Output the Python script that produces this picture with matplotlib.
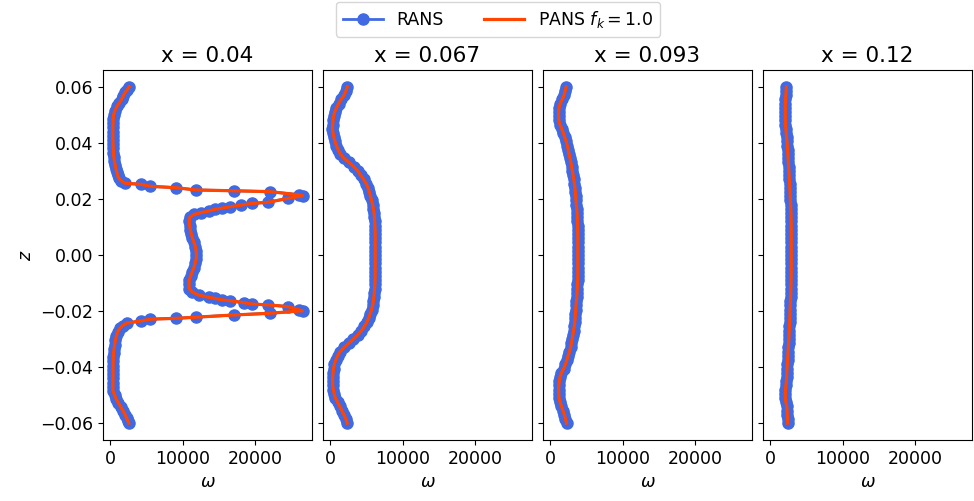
import matplotlib
matplotlib.use("Agg")
import matplotlib.pyplot as plt

# station labels
stations = ["x = 0.04", "x = 0.067", "x = 0.093", "x = 0.12"]

# x = 0.04 profile (z, omega)
z1 = [0.0600, 0.0590, 0.0580, 0.0568, 0.0555, 0.0542, 0.0530, 0.0515, 0.0500, 0.0485,
      0.0470, 0.0455, 0.0440, 0.0425, 0.0410, 0.0395, 0.0380, 0.0365, 0.0350, 0.0335,
      0.0320, 0.0305, 0.0295, 0.0285, 0.0275, 0.0265, 0.0256, 0.0252, 0.0245, 0.0240,
      0.0232, 0.0229, 0.0226, 0.0215, 0.0211, 0.0202, 0.0188, 0.0184, 0.0178, 0.0172,
      0.0167, 0.0163, 0.0157, 0.0151, 0.0145, 0.0135, 0.0120, 0.0105, 0.0090, 0.0075,
      0.0060, 0.0045, 0.0030, 0.0015, 0.0000, -0.0015, -0.0030, -0.0045, -0.0060, -0.0075,
      -0.0090, -0.0105, -0.0120, -0.0132, -0.0143, -0.0151, -0.0155, -0.0160, -0.0163, -0.0170,
      -0.0175, -0.0178, -0.0184, -0.0196, -0.0199, -0.0208, -0.0214, -0.0222, -0.0226, -0.0229,
      -0.0235, -0.0243, -0.0252, -0.0261, -0.0275, -0.0290, -0.0305, -0.0320, -0.0335, -0.0350,
      -0.0365, -0.0380, -0.0395, -0.0410, -0.0425, -0.0440, -0.0455, -0.0470, -0.0485, -0.0500,
      -0.0515, -0.0528, -0.0542, -0.0558, -0.0570, -0.0582, -0.0594, -0.0600]
w1 = [2600, 2350, 2050, 1800, 1550, 1250, 900, 650, 450, 400,
      380, 360, 350, 350, 360, 380, 400, 430, 480, 560,
      680, 800, 900, 1000, 1150, 1500, 2050, 4300, 5500, 9100,
      11800, 17100, 22000, 26000, 26550, 24500, 21800, 19500, 18100, 16500,
      15400, 14500, 13600, 12500, 11600, 11000, 10900, 10950, 11050, 11200,
      11350, 11550, 11750, 11850, 11900, 11850, 11700, 11550, 11300, 11100,
      10900, 10880, 10900, 11300, 12200, 13600, 14500, 15400, 16500, 18400,
      19500, 21800, 24500, 26100, 26550, 22000, 17100, 11800, 9100, 5500,
      4300, 2250, 1700, 1350, 1000, 820, 700, 600, 520, 450,
      420, 400, 390, 380, 375, 370, 365, 360, 360, 600,
      850, 1130, 1450, 1810, 2050, 2250, 2490, 2550]

# x = 0.067, 0.093, 0.12 profiles share the same z points
z_out = [0.0600, 0.0585, 0.0570, 0.0555, 0.0540, 0.0525, 0.0510, 0.0495, 0.0480, 0.0465,
         0.0450, 0.0435, 0.0420, 0.0405, 0.0390, 0.0375, 0.0360, 0.0345, 0.0330, 0.0315,
         0.0300, 0.0285, 0.0270, 0.0255, 0.0240, 0.0225, 0.0210, 0.0195, 0.0180, 0.0165,
         0.0150, 0.0135, 0.0120, 0.0105, 0.0090, 0.0075, 0.0060, 0.0045, 0.0030, 0.0015,
         0.0000, -0.0015, -0.0030, -0.0045, -0.0060, -0.0075, -0.0090, -0.0105, -0.0120, -0.0135,
         -0.0150, -0.0165, -0.0180, -0.0195, -0.0210, -0.0225, -0.0240, -0.0255, -0.0270, -0.0285,
         -0.0300, -0.0315, -0.0330, -0.0345, -0.0360, -0.0375, -0.0390, -0.0405, -0.0420, -0.0435,
         -0.0450, -0.0465, -0.0480, -0.0495, -0.0510, -0.0525, -0.0540, -0.0555, -0.0570, -0.0585,
         -0.0600]
w2 = [2350, 2150, 1900, 1500, 1150, 850, 600, 450, 380, 320,
      300, 380, 500, 650, 850, 1100, 1400, 1900, 2600, 3250,
      3800, 4200, 4600, 4950, 5200, 5400, 5550, 5700, 5850, 5950,
      6050, 6100, 6120, 6150, 6180, 6200, 6200, 6200, 6200, 6200,
      6200, 6200, 6200, 6200, 6200, 6190, 6180, 6150, 6120, 6080,
      6020, 5950, 5850, 5700, 5500, 5300, 5050, 4700, 4300, 3800,
      3200, 2550, 1900, 1350, 1000, 750, 560, 450, 380, 330,
      310, 330, 420, 540, 700, 1000, 1300, 1600, 1900, 2150,
      2350]
w3 = [2200, 2050, 1900, 1650, 1350, 1200, 1150, 1150, 1170, 1350,
      1600, 1800, 2000, 2200, 2350, 2480, 2600, 2730, 2850, 2950,
      3050, 3150, 3250, 3330, 3400, 3450, 3500, 3550, 3600, 3650,
      3700, 3730, 3750, 3770, 3780, 3790, 3800, 3800, 3800, 3800,
      3800, 3800, 3800, 3800, 3800, 3790, 3780, 3750, 3720, 3690,
      3650, 3600, 3560, 3510, 3470, 3430, 3380, 3300, 3220, 3120,
      3020, 2920, 2800, 2650, 2450, 2280, 2100, 1850, 1550, 1350,
      1250, 1180, 1150, 1170, 1200, 1350, 1550, 1750, 1950, 2100,
      2250]
w4 = [2220, 2180, 2150, 2100, 2080, 2080, 2080, 2080, 2080, 2100,
      2150, 2200, 2250, 2300, 2350, 2380, 2420, 2460, 2500, 2530,
      2560, 2600, 2630, 2670, 2700, 2720, 2750, 2780, 2800, 2830,
      2850, 2870, 2880, 2890, 2900, 2900, 2900, 2900, 2900, 2900,
      2900, 2900, 2900, 2900, 2890, 2880, 2870, 2860, 2840, 2820,
      2800, 2790, 2770, 2740, 2720, 2700, 2680, 2650, 2620, 2590,
      2560, 2520, 2490, 2460, 2420, 2390, 2350, 2310, 2280, 2250,
      2220, 2160, 2100, 2080, 2080, 2150, 2280, 2320, 2350, 2380,
      2400]

rans = [(w1, z1), (w2, z_out), (w3, z_out), (w4, z_out)]
pans = [(w1, z1), (w2, z_out), (w3, z_out), (w4, z_out)]

fig, axes = plt.subplots(1, 4, sharex=True, sharey=True, figsize=(9.74, 5.01), dpi=100)
fig.subplots_adjust(left=0.1057, right=0.998, bottom=0.1218, top=0.8603, wspace=0.052)

for ax, title, (rw, rz), (pw, pz) in zip(axes, stations, rans, pans):
    l1, = ax.plot(rw, rz, "o-", color="royalblue", lw=2, ms=8, label="RANS")
    l2, = ax.plot(pw, pz, "-", color="orangered", lw=2.3, label="PANS $f_k=1.0$")
    ax.set_title(title, fontsize=15.5)
    ax.set_xlabel(r"$\omega$", fontsize=12.5)
    ax.tick_params(labelsize=12.5)

axes[0].set_ylabel("$z$", fontsize=12.5)
axes[0].set_xticks([0, 10000, 20000])

fig.legend(handles=[l1, l2], loc="upper center", bbox_to_anchor=(498 / 974, 1.0),
           ncol=2, fontsize=12.5, borderaxespad=0.1, handlelength=2.3, columnspacing=2.3)

plt.savefig("out.png", dpi=100)
